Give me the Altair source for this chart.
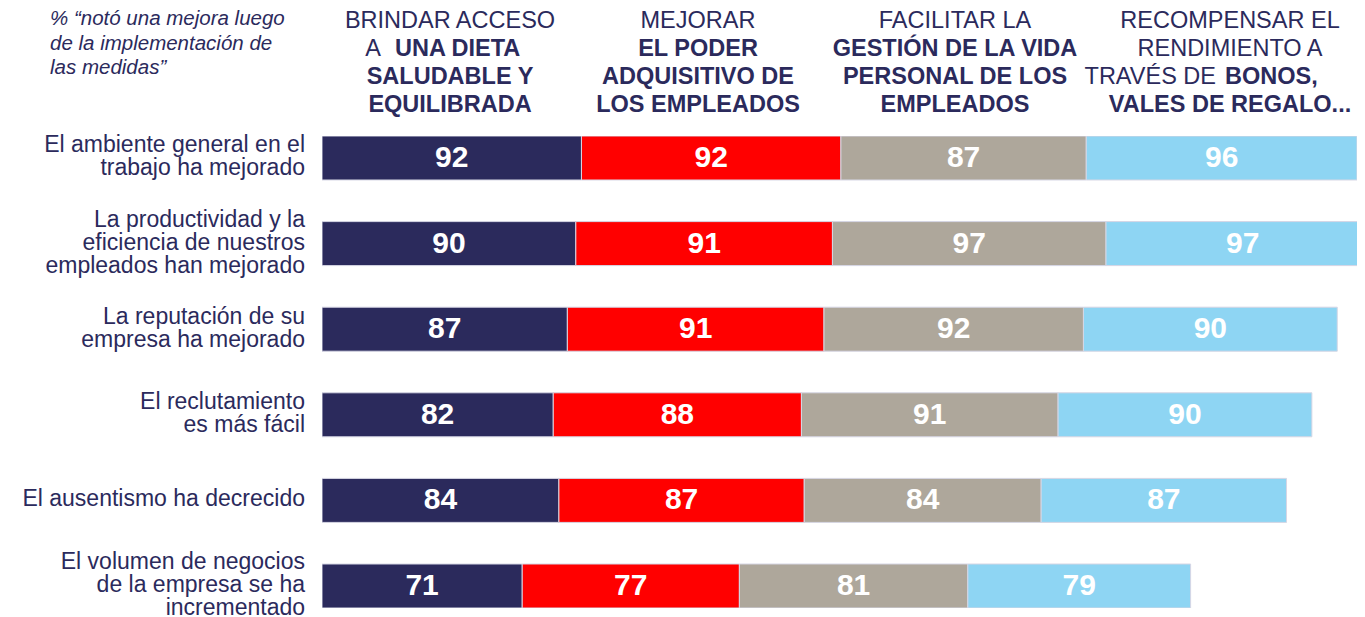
import altair as alt
import pandas as pd

# ---- data ----
rows = [
    "El ambiente general en el|trabajo ha mejorado",
    "La productividad y la|eficiencia de nuestros|empleados han mejorado",
    "La reputación de su|empresa ha mejorado",
    "El reclutamiento|es más fácil",
    "El ausentismo ha decrecido",
    "El volumen de negocios|de la empresa se ha|incrementado",
]
series = ["Dieta saludable", "Poder adquisitivo", "Vida personal", "Bonos y vales"]
dieta = [92, 90, 87, 82, 84, 71]
poder = [92, 91, 91, 88, 87, 77]
vida = [87, 97, 92, 91, 84, 81]
bonos = [96, 97, 90, 90, 87, 79]
colors = ["#2B2A5C", "#FF0000", "#AEA79B", "#8ED5F3"]

subtitle_lines = ["% “notó una mejora luego", "de la implementación de", "las medidas”"]

# header pieces: (text, bold, column, line, kind) kind: c=center, r=right part, l=left part
headers = [
    ("BRINDAR ACCESO", False, 0, 0, "c"),
    ("A", False, 0, 1, "r"),
    ("UNA DIETA", True, 0, 1, "l"),
    ("SALUDABLE Y", True, 0, 2, "c"),
    ("EQUILIBRADA", True, 0, 3, "c"),
    ("MEJORAR", False, 1, 0, "c"),
    ("EL PODER", True, 1, 1, "c"),
    ("ADQUISITIVO DE", True, 1, 2, "c"),
    ("LOS EMPLEADOS", True, 1, 3, "c"),
    ("FACILITAR LA", False, 2, 0, "c"),
    ("GESTIÓN DE LA VIDA", True, 2, 1, "c"),
    ("PERSONAL DE LOS", True, 2, 2, "c"),
    ("EMPLEADOS", True, 2, 3, "c"),
    ("RECOMPENSAR EL", False, 3, 0, "c"),
    ("RENDIMIENTO A", False, 3, 1, "c"),
    ("TRAVÉS DE", False, 3, 2, "r"),
    ("BONOS,", True, 3, 2, "l"),
    ("VALES DE REGALO...", True, 3, 3, "c"),
]

# ---- layout (page pixels) ----
PLOT_LEFT = 322
PLOT_TOP = 136
col_centers = [450, 698, 955, 1230]
split_x = {(0, 1): (381, 395), (3, 2): (1216, 1225)}
header_line_y = [21, 49, 77, 105]
NAVY = "#2B2A5C"
LABEL_LH = 23

recs = []
for i, r in enumerate(rows):
    for j, (s, vals) in enumerate(zip(series, [dieta, poder, vida, bonos])):
        recs.append({"row": r, "series": s, "order": j, "value": vals[i]})
df = pd.DataFrame(recs)

base = alt.Chart(df).transform_stack(
    stack="value", groupby=["row"], as_=["x0", "x1"], sort=[alt.SortField("order")]
).transform_calculate(mid="(datum.x0 + datum.x1) / 2")

xscale = alt.Scale(domain=[0, 367], nice=False, zero=True)
yenc = alt.Y(
    "row:N",
    sort=rows,
    scale=alt.Scale(paddingInner=0.486, paddingOuter=0),
    axis=None,
)

bars = base.mark_bar(clip=True, stroke="#d6d6e4", strokeWidth=1).encode(
    x=alt.X("x0:Q", scale=xscale, axis=None),
    x2="x1:Q",
    y=yenc,
    color=alt.Color("series:N", scale=alt.Scale(domain=series, range=colors), legend=None),
)

values = base.mark_text(
    color="white", fontWeight="bold", fontSize=30,
    font="Liberation Sans", baseline="middle", align="center",
).encode(
    x=alt.X("mid:Q", scale=xscale, axis=None),
    y=yenc,
    text="value:Q",
)

layers = [bars, values]

# row labels (multi-line, centred on each bar)
lab_df = pd.DataFrame({"row": rows, "n": [r.count("|") + 1 for r in rows]})
for n in sorted(lab_df["n"].unique()):
    sub = lab_df[lab_df["n"] == n]
    layers.append(
        alt.Chart(sub).transform_calculate(lines="split(datum.row, '|')").mark_text(
            align="right", baseline="middle", fontSize=23, lineHeight=LABEL_LH,
            font="Liberation Sans", color=NAVY, dy=-(n - 1) * LABEL_LH / 2 - 1,
        ).encode(x=alt.value(305 - PLOT_LEFT), y=yenc, text="lines:N")
    )

# subtitle
for k, line in enumerate(subtitle_lines):
    layers.append(
        alt.Chart(pd.DataFrame({"t": [line]})).mark_text(
            align="left", baseline="middle", fontSize=20.5, fontStyle="italic",
            font="Liberation Sans", color=NAVY,
        ).encode(x=alt.value(50 - PLOT_LEFT), y=alt.value(19 + k * 24.5 - PLOT_TOP), text="t:N")
    )

# headers
for text, bold, col, line, kind in headers:
    if kind == "c":
        px, align = col_centers[col], "center"
    elif kind == "r":
        px, align = split_x[(col, line)][0], "right"
    else:
        px, align = split_x[(col, line)][1], "left"
    layers.append(
        alt.Chart(pd.DataFrame({"t": [text]})).mark_text(
            align=align, baseline="middle", fontSize=23.5,
            fontWeight="bold" if bold else "normal",
            font="Liberation Sans", color=NAVY,
        ).encode(x=alt.value(px - PLOT_LEFT), y=alt.value(header_line_y[line] - PLOT_TOP), text="t:N")
    )

chart = alt.layer(*layers).properties(
    width=1035, height=472,
    autosize=alt.AutoSizeParams(type="none"),
    padding={"left": 314, "top": 128, "right": 0, "bottom": 10},
    background="white",
).configure_view(stroke=None)

chart.save("out.html", embed_options={"renderer": "svg", "actions": False})
